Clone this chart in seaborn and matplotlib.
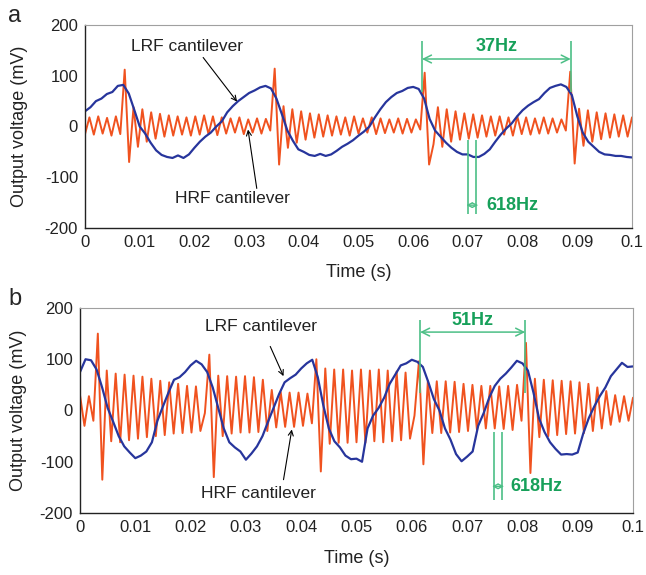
import numpy as np
import matplotlib
matplotlib.use('Agg')
import matplotlib.pyplot as plt
import seaborn as sns

# ---- data (mV) ----
# LRF cantilever, one sample per ms from 0 to 0.1 s
lrf_a = [30, 38, 50, 55, 64, 68, 80, 82, 65, 33,
         0, -14, -32, -47, -56, -60, -62, -57, -62, -55,
         -42, -30, -20, -12, 0, 10, 28, 40, 50, 58,
         66, 71, 77, 80, 75, 55, 24, -8, -28, -45,
         -50, -56, -58, -54, -58, -55, -48, -40, -34, -27,
         -18, -10, 0, 18, 34, 48, 58, 66, 70, 76,
         78, 74, 55, 15, -8, -20, -32, -42, -50, -55,
         -55, -60, -60, -54, -45, -30, -16, -4, 6, 20,
         32, 41, 48, 54, 66, 76, 80, 83, 78, 62,
         20, -12, -30, -40, -50, -55, -56, -58, -58, -60,
         -61]
lrf_b = [75, 100, 98, 80, 45, 5, -22, -50, -70, -82,
         -93, -88, -80, -62, -20, 8, 35, 60, 65, 75,
         88, 97, 90, 75, 45, 5, -35, -62, -72, -80,
         -96, -84, -70, -50, -22, 5, 32, 55, 63, 70,
         82, 92, 99, 65, 10, -35, -60, -72, -88, -95,
         -94, -100, -35, -10, 5, 25, 52, 70, 88, 92,
         99, 95, 85, 55, 22, 0, -35, -57, -85, -99,
         -90, -80, -30, -5, 25, 48, 62, 72, 84, 97,
         92, 78, 35, -15, -42, -62, -75, -86, -85, -86,
         -82, -45, -15, 8, 28, 45, 67, 80, 93, 85,
         86]

# HRF cantilever, peaks and troughs (125 samples over 0.1 s)
hrf_a = [-15, 18, -16, 20, -14, 17, -18, 20, -15, 112,
         -70, 38, -40, 34, -30, 28, -24, 25, -20, 22,
         -18, 20, -16, 18, -18, 20, -16, 22, -15, 20,
         -17, 18, -14, 16, -12, 18, -15, 14, -12, 16,
         -14, 15, -8, 114, -75, 40, -42, 34, -32, 30,
         -26, 26, -22, 24, -20, 22, -18, 20, -16, 18,
         -18, 20, -14, 16, -12, 18, -15, 16, -13, 14,
         -12, 16, -14, 15, -12, 14, -6, 106, -75, -35,
         38, -40, 34, -30, 30, -26, 26, -24, 24, -22,
         22, -20, 20, -18, 20, -16, 18, -18, 20, -15,
         18, -16, 16, -14, 18, -14, 16, -12, 14, -8,
         108, -73, 35, -38, 32, -30, 28, -25, 26, -22,
         24, -20, 22, -20, 18]
hrf_b = [30, -30, 28, -20, 150, -135, 78, -60, 72, -62,
         70, -58, 68, -55, 66, -52, 62, -50, 58, -48,
         55, -45, 52, -44, 48, -43, 47, -40, -5, 109,
         -130, 68, -50, 67, -45, 66, -43, 67, -43, 65,
         -42, 60, -40, 40, -33, 36, -32, 35, -32, 35,
         -30, 33, -25, 100, -119, 82, -65, 80, -63, 80,
         -63, 78, -62, 80, -63, 78, -60, 80, -62, 78,
         -60, 76, -58, 74, -55, -10, 96, -105, 58, -44,
         57, -44, 57, -43, 56, -42, 52, -40, 50, -37,
         48, -35, 48, -35, 47, -36, 48, -38, 50, -20,
         132, -122, 62, -52, 60, -50, 59, -48, 58, -46,
         57, -45, 55, -44, 52, -40, 45, -35, 38, -28,
         30, -22, 28, -20, 25]

x_ticks = [0, 0.01, 0.02, 0.03, 0.04, 0.05, 0.06, 0.07, 0.08, 0.09, 0.1]
x_tick_labels = ['0', '0.01', '0.02', '0.03', '0.04', '0.05',
                 '0.06', '0.07', '0.08', '0.09', '0.1']
y_ticks = [-200, -100, 0, 100, 200]

# frequency markers (s)
lrf_marks_a = [0.0616, 0.0888]
lrf_marks_b = [0.0615, 0.0805]
hrf_marks_a = [0.0701, 0.0715]
hrf_marks_b = [0.0749, 0.0763]
lrf_freq_a = '37Hz'
lrf_freq_b = '51Hz'
hrf_freq = '618Hz'

t_lrf = np.linspace(0, 0.1, len(lrf_a))
t_hrf = np.linspace(0, 0.1, len(hrf_a))

ORANGE = '#f0521f'
BLUE = '#27359c'
GREEN_TXT = '#17a05a'
GREEN_LN = '#4cbf86'

sns.set_style('white')
plt.rcParams['font.family'] = ['Liberation Sans', 'DejaVu Sans']
plt.rcParams['axes.unicode_minus'] = False

fig = plt.figure(figsize=(6.46, 5.75), dpi=100)
ax_a = fig.add_axes([85 / 646, 1 - 228 / 575, 547 / 646, 203 / 575])
ax_b = fig.add_axes([80 / 646, 1 - 513 / 575, 553 / 646, 205 / 575])


def style_axis(ax, ylab_x, xpad):
    ax.set_xlim(0, 0.1)
    ax.set_ylim(-200, 200)
    ax.set_xticks(x_ticks)
    ax.set_xticklabels(x_tick_labels)
    ax.set_yticks(y_ticks)
    ax.tick_params(direction='in', length=5, width=1, labelsize=12,
                   top=False, right=False, pad=5, colors='#222222')
    for s in ['left', 'bottom']:
        ax.spines[s].set_color('#222222')
        ax.spines[s].set_linewidth(1.0)
    for s in ['top', 'right']:
        ax.spines[s].set_color('#a0a0a0')
        ax.spines[s].set_linewidth(0.8)
    ax.set_xlabel('Time (s)', fontsize=13, color='#222222', labelpad=xpad)
    ax.set_ylabel('Output voltage (mV)', fontsize=13, color='#222222')
    ax.yaxis.set_label_coords(ylab_x, 0.5)


def freq_marks(ax, lrf_marks, lrf_lo, lrf_hi, lrf_arrow_y, lrf_text_y, lrf_label,
               hrf_marks, hrf_lo, hrf_hi, hrf_arrow_y, hrf_text_x):
    ax.vlines(lrf_marks, lrf_lo, lrf_hi, color=GREEN_LN, lw=1.2, zorder=5)
    ax.annotate('', xy=(lrf_marks[1], lrf_arrow_y), xytext=(lrf_marks[0], lrf_arrow_y),
                arrowprops=dict(arrowstyle='<->', color=GREEN_LN, lw=1.1,
                                mutation_scale=14, shrinkA=0, shrinkB=0), zorder=5)
    ax.text(sum(lrf_marks) / 2, lrf_text_y, lrf_label, ha='center', va='center',
            color=GREEN_TXT, fontsize=13, fontweight='bold')
    ax.vlines(hrf_marks, hrf_lo, hrf_hi, color=GREEN_LN, lw=1.2, zorder=5)
    ax.annotate('', xy=(hrf_marks[1] + 0.0004, hrf_arrow_y),
                xytext=(hrf_marks[0] - 0.0004, hrf_arrow_y),
                arrowprops=dict(arrowstyle='<->', color=GREEN_LN, lw=1.0,
                                mutation_scale=8, shrinkA=0, shrinkB=0), zorder=5)
    ax.text(hrf_text_x, hrf_arrow_y, hrf_freq, ha='left', va='center',
            color=GREEN_TXT, fontsize=13, fontweight='bold')


def label_arrow(ax, text, text_xy, tail, head):
    ax.text(text_xy[0], text_xy[1], text, ha='center', va='center',
            fontsize=12.5, color='#222222')
    ax.annotate('', xy=head, xytext=tail,
                arrowprops=dict(arrowstyle='->', color='black', lw=0.8,
                                mutation_scale=9, shrinkA=0, shrinkB=0))


# panel a
sns.lineplot(x=t_hrf, y=hrf_a, ax=ax_a, color=ORANGE, linewidth=1.4,
             solid_joinstyle='round')
sns.lineplot(x=t_lrf, y=lrf_a, ax=ax_a, color=BLUE, linewidth=1.6,
             solid_joinstyle='round')
style_axis(ax_a, -0.105, 10)
freq_marks(ax_a, lrf_marks_a, 67, 168, 133, 158, lrf_freq_a,
           hrf_marks_a, -173, -26, -155, 0.0734)
label_arrow(ax_a, 'LRF cantilever', (0.0187, 158), (0.0216, 136), (0.0278, 49))
label_arrow(ax_a, 'HRF cantilever', (0.0270, -142), (0.0314, -122), (0.0298, -6))
fig.text(15 / 646, 1 - 16 / 575, 'a', fontsize=17, ha='center', va='center')

# panel b
sns.lineplot(x=t_hrf, y=hrf_b, ax=ax_b, color=ORANGE, linewidth=1.4,
             solid_joinstyle='round')
sns.lineplot(x=t_lrf, y=lrf_b, ax=ax_b, color=BLUE, linewidth=1.6,
             solid_joinstyle='round')
style_axis(ax_b, -0.096, 11)
freq_marks(ax_b, lrf_marks_b, 35, 177, 153, 176, lrf_freq_b,
           hrf_marks_b, -174, -41, -148, 0.0778)
label_arrow(ax_b, 'LRF cantilever', (0.0327, 163), (0.0344, 125), (0.0368, 67))
label_arrow(ax_b, 'HRF cantilever', (0.0322, -161), (0.0368, -135), (0.0383, -37))
fig.text(15 / 646, 1 - 299 / 575, 'b', fontsize=17, ha='center', va='center')

fig.savefig('out.png', dpi=100)
